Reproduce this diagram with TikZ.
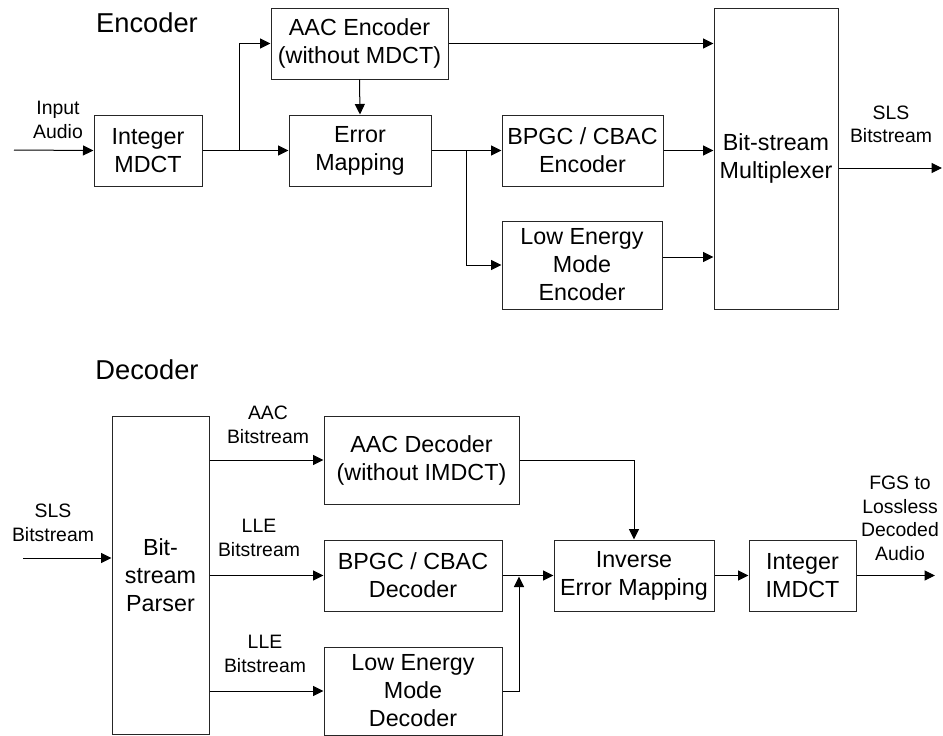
\documentclass[tikz,border=0pt]{standalone}
\usepackage{fontspec}
\setmainfont{Liberation Sans}
\usetikzlibrary{arrows.meta}
\begin{document}
\begin{tikzpicture}[x=1pt,y=-1pt,
  box/.style={draw=black!85, line width=1pt, inner sep=0pt, align=center, font=\fontsize{23.3}{28}\selectfont},
  lbl/.style={align=center, inner sep=0pt, font=\fontsize{19.4}{23.5}\selectfont},
  ttl/.style={inner sep=0pt, font=\fontsize{27.3}{33}\selectfont},
  arr/.style={draw=black, line width=1pt, -{Triangle[length=10.5pt,width=10pt]}},
  ln/.style={draw=black, line width=1pt}]
\useasboundingbox (0,0) rectangle (943,736);
% ---------------- Encoder ----------------
\node[ttl] (enctitle) at (147,23) {Encoder};
\node[box, minimum width=108pt, minimum height=71pt] (intmdct) at (148,150.5) {Integer\\MDCT};
\node[box, minimum width=177pt, minimum height=71pt] (aacenc) at (359.5,43.5) {AAC Encoder\\(without MDCT)};
\node[box, minimum width=142pt, minimum height=71pt] (errmap) at (360,150.5) {Error\\Mapping};
\node[box, minimum width=161pt, minimum height=71pt] (bpgcenc) at (582.5,150.5) {BPGC / CBAC\\Encoder};
\node[box, minimum width=160pt, minimum height=88pt] (lemenc) at (582,265) {Low Energy\\Mode\\Encoder};
\node[box, minimum width=124pt, minimum height=301pt] (mux) at (776,158.5) {Bit-stream\\Multiplexer};
\node[lbl] (inlbl) at (58,120) {Input\\Audio};
\node[lbl] (slslbl) at (891,124.5) {SLS\\Bitstream};
\coordinate (in) at (14,150);
\coordinate (b1) at (239,150);
\coordinate (b2) at (466,150);
\coordinate (lemout) at (lemenc.east |- 0,257);
\coordinate (out) at (942,168);
\draw[arr] (in) -- (intmdct.west);
\draw[arr] (intmdct.east) -- (errmap.west);
\draw[arr] (b1) |- (aacenc.west);
\draw[arr] (aacenc.south) -- (errmap.north);
\draw[arr] (aacenc.east) -- (mux.west |- aacenc.east);
\draw[arr] (errmap.east) -- (bpgcenc.west);
\draw[arr] (b2) |- (lemenc.west);
\draw[arr] (bpgcenc.east) -- (mux.west |- bpgcenc.east);
\draw[arr] (lemout) -- (mux.west |- lemout);
\draw[arr] (mux.east |- out) -- (out);
% ---------------- Decoder ----------------
\node[ttl] (dectitle) at (147,370) {Decoder};
\node[box, minimum width=97pt, minimum height=318pt] (parser) at (160.5,575) {Bit-\\stream\\Parser};
\node[box, minimum width=195pt, minimum height=88pt] (aacdec) at (421.5,460) {AAC Decoder\\(without IMDCT)};
\node[box, minimum width=178pt, minimum height=71pt] (bpgcdec) at (413,575.5) {BPGC / CBAC\\Decoder};
\node[box, minimum width=178pt, minimum height=88pt] (lemdec) at (413,691) {Low Energy\\Mode\\Decoder};
\node[box, minimum width=160pt, minimum height=71pt] (iem) at (634,575.5) {Inverse\\Error Mapping};
\node[box, minimum width=107pt, minimum height=71pt] (imdct) at (802.5,575.5) {Integer\\IMDCT};
\node[lbl] (slsin) at (53,523) {SLS\\Bitstream};
\node[lbl] (aaclbl) at (268,425) {AAC\\Bitstream};
\node[lbl] (lle1) at (259,538) {LLE\\Bitstream};
\node[lbl] (lle2) at (265,654) {LLE\\Bitstream};
\node[lbl] (fgs) at (900,518.5) {FGS to\\Lossless\\Decoded\\Audio};
\coordinate (din) at (23,558);
\coordinate (j) at (519,576.5);
\coordinate (dout) at (935,575.5);
\draw[arr] (din) -- (parser.west |- din);
\draw[arr] (parser.east |- aacdec.west) -- (aacdec.west);
\draw[arr] (parser.east |- bpgcdec.west) -- (bpgcdec.west);
\draw[arr] (parser.east |- lemdec.west) -- (lemdec.west);
\draw[arr] (aacdec.east) -| (iem.north);
\draw[arr] (bpgcdec.east) -- (iem.west);
\draw[arr] (lemdec.east) -| (j);
\draw[arr] (iem.east) -- (imdct.west);
\draw[arr] (imdct.east) -- (dout);
\end{tikzpicture}
\end{document}
